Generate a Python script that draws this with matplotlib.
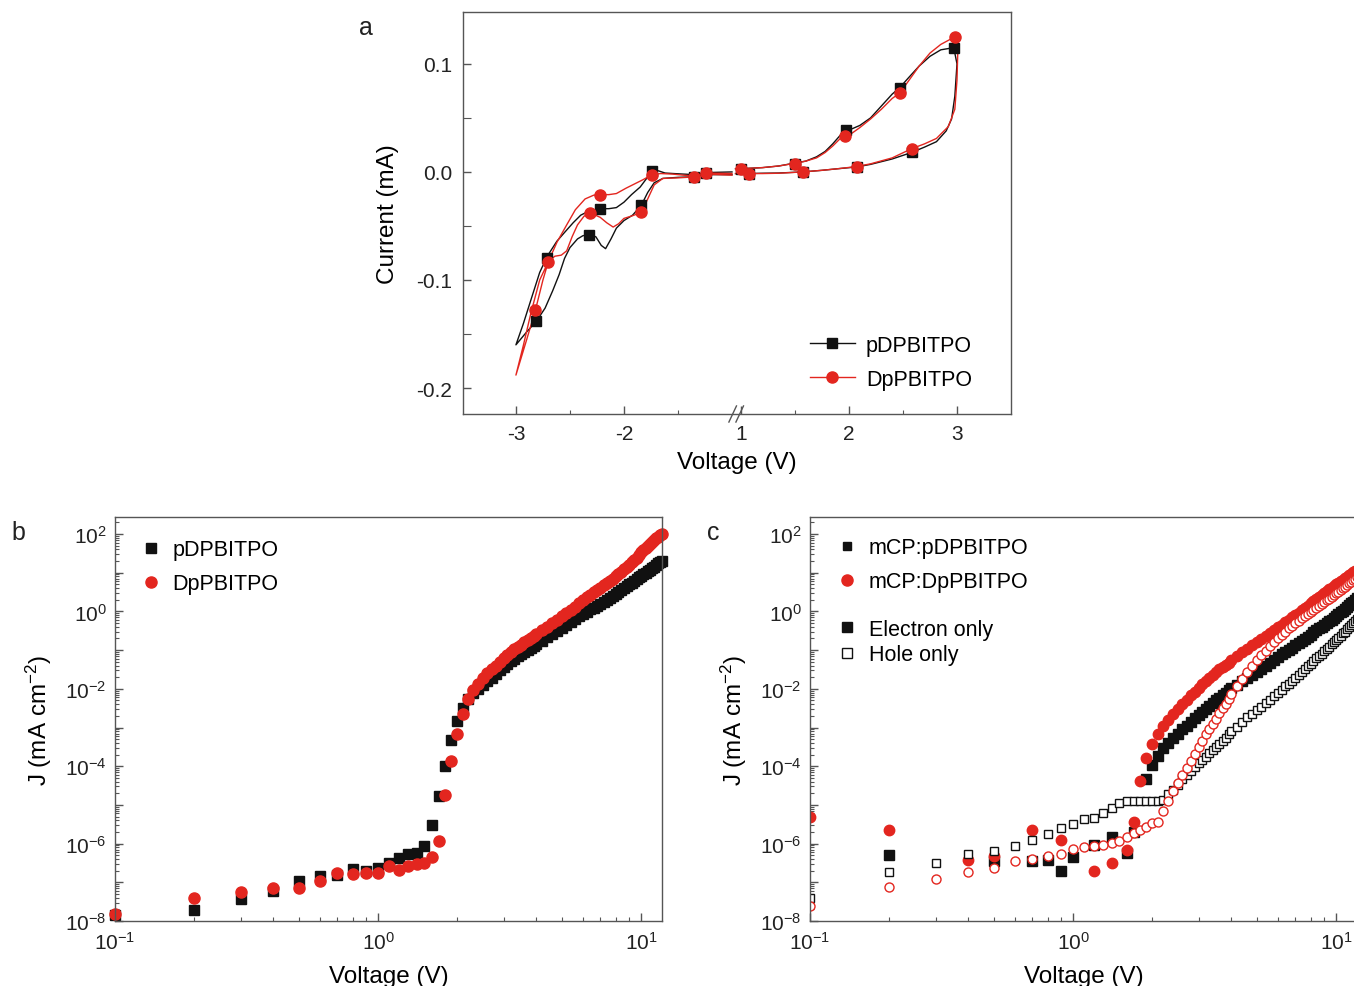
import numpy as np
import matplotlib.pyplot as plt
from matplotlib.lines import Line2D
from matplotlib.ticker import LogLocator, FuncFormatter, NullFormatter, FixedLocator

plt.rcParams['font.family'] = ['Liberation Sans', 'DejaVu Sans']
plt.rcParams['mathtext.default'] = 'regular'
plt.rcParams['axes.unicode_minus'] = False

BLACK = '#111111'
RED = '#e3261f'
FRAME = '#555555'

# ---------------- panel a: cyclic voltammetry (V, mA) ----------------
cv_black_left_v = [-1.00, -1.24, -1.35, -1.50, -1.64, -1.72, -1.78, -1.84, -1.92, -2.00,
                   -2.07, -2.12, -2.17, -2.21, -2.26, -2.32, -2.38, -2.43, -2.50, -2.55,
                   -2.60, -2.66, -2.73, -2.81, -2.90, -3.00,
                   -2.93, -2.86, -2.78, -2.71, -2.62, -2.55, -2.47, -2.40, -2.32, -2.22,
                   -2.14, -2.07, -2.00, -1.93, -1.85, -1.79, -1.74, -1.68, -1.62, -1.54,
                   -1.45, -1.35, -1.24, -1.00]
cv_black_left_i = [-0.0025, -0.0025, -0.0045, -0.0050, -0.0060, -0.0100, -0.0190, -0.0310, -0.0400, -0.0450,
                   -0.0520, -0.0620, -0.0710, -0.0680, -0.0600, -0.0580, -0.0590, -0.0620, -0.0700, -0.0800,
                   -0.0950, -0.1100, -0.1260, -0.1380, -0.1480, -0.1600,
                   -0.1400, -0.1180, -0.0930, -0.0780, -0.0640, -0.0560, -0.0470, -0.0400, -0.0360, -0.0340,
                   -0.0340, -0.0330, -0.0280, -0.0210, -0.0140, -0.0060, 0.0010, 0.0010, -0.0010, -0.0015,
                   -0.0020, -0.0025, -0.0006, 0.0000]
cv_black_right_v = [0.95, 1.00, 1.20, 1.35, 1.47, 1.60, 1.70, 1.78, 1.85, 1.92, 1.97, 2.03,
                    2.10, 2.20, 2.30, 2.40, 2.47, 2.55, 2.65, 2.75, 2.85, 2.97,
                    3.00, 2.98, 2.95, 2.90, 2.81, 2.70, 2.58, 2.40, 2.20, 2.07, 1.90,
                    1.75, 1.57, 1.35, 1.20, 1.07, 0.95]
cv_black_right_i = [0.0030, 0.0030, 0.0040, 0.0055, 0.0077, 0.0100, 0.0140, 0.0190, 0.0260, 0.0340, 0.0385, 0.0400,
                    0.0430, 0.0500, 0.0610, 0.0720, 0.0780, 0.0870, 0.0980, 0.1070, 0.1130, 0.1150,
                    0.1000, 0.0700, 0.0490, 0.0380, 0.0280, 0.0230, 0.0180, 0.0120, 0.0070, 0.0046, 0.0030,
                    0.0015, 0.0000, -0.0010, -0.0012, -0.0015, -0.0015]
cv_red_left_v = [-1.00, -1.24, -1.35, -1.50, -1.64, -1.72, -1.78, -1.84, -1.92, -2.00,
                 -2.05, -2.10, -2.16, -2.22, -2.31, -2.37, -2.43, -2.48, -2.53, -2.58,
                 -2.64, -2.70, -2.75, -2.82, -2.90, -3.00,
                 -2.93, -2.86, -2.78, -2.70, -2.62, -2.53, -2.45, -2.36, -2.28, -2.22,
                 -2.14, -2.07, -1.98, -1.90, -1.82, -1.74, -1.66, -1.55, -1.45, -1.35,
                 -1.24, -1.00]
cv_red_left_i = [-0.0030, -0.0020, -0.0046, -0.0055, -0.0060, -0.0120, -0.0250, -0.0375, -0.0405, -0.0430,
                 -0.0480, -0.0510, -0.0470, -0.0420, -0.0380, -0.0410, -0.0490, -0.0600, -0.0730, -0.0770,
                 -0.0780, -0.0830, -0.1000, -0.1280, -0.1550, -0.1880,
                 -0.1600, -0.1300, -0.1000, -0.0830, -0.0650, -0.0490, -0.0350, -0.0250, -0.0215, -0.0210,
                 -0.0210, -0.0200, -0.0150, -0.0110, -0.0070, -0.0025, -0.0015, -0.0020, -0.0030, -0.0037,
                 -0.0010, -0.0015]
cv_red_right_v = [0.95, 1.00, 1.20, 1.35, 1.47, 1.60, 1.70, 1.78, 1.85, 1.92, 1.96, 2.03,
                  2.10, 2.20, 2.30, 2.40, 2.47, 2.55, 2.65, 2.75, 2.85, 2.98,
                  3.01, 3.00, 2.98, 2.92, 2.81, 2.70, 2.58, 2.40, 2.20, 2.07, 1.90,
                  1.75, 1.57, 1.35, 1.20, 1.07, 0.95]
cv_red_right_i = [0.0030, 0.0030, 0.0040, 0.0055, 0.0075, 0.0100, 0.0130, 0.0180, 0.0240, 0.0310, 0.0330, 0.0360,
                  0.0410, 0.0490, 0.0580, 0.0680, 0.0730, 0.0840, 0.0980, 0.1100, 0.1180, 0.1250,
                  0.1200, 0.0850, 0.0580, 0.0420, 0.0310, 0.0260, 0.0215, 0.0130, 0.0075, 0.0050, 0.0030,
                  0.0015, 0.0000, -0.0012, -0.0015, -0.0015, -0.0015]
# symbols on the curves
cv_black_mark_v = [-2.81, -2.71, -2.32, -2.22, -1.84, -1.74, -1.35, -1.24,
                   1.00, 1.07, 1.50, 1.57, 1.97, 2.07, 2.47, 2.58, 2.97]
cv_black_mark_i = [-0.138, -0.080, -0.058, -0.034, -0.031, 0.001, -0.0046, -0.0006,
                   0.003, -0.0015, 0.0077, 0.0, 0.0385, 0.0046, 0.078, 0.018, 0.115]
cv_red_mark_v = [-2.82, -2.70, -2.31, -2.22, -1.84, -1.74, -1.35, -1.24,
                 1.00, 1.07, 1.50, 1.57, 1.96, 2.07, 2.47, 2.58, 2.98]
cv_red_mark_i = [-0.128, -0.083, -0.038, -0.021, -0.0375, -0.0025, -0.0046, -0.0006,
                 0.003, -0.0015, 0.0075, 0.0, 0.033, 0.0046, 0.073, 0.0215, 0.125]

# ---------------- panels b, c: J-V on log axes (log10 J, mA cm-2) ----------------
v_lo = [0.1, 0.2, 0.3, 0.4, 0.5, 0.6, 0.7, 0.8, 0.9, 1.0, 1.1, 1.2,
        1.3, 1.4, 1.5, 1.6, 1.7, 1.8, 1.9, 2.0, 2.1, 2.2, 2.3]
v_hi = [2.4, 2.5, 2.6, 2.7, 2.8, 2.9, 3.0, 3.1, 3.2, 3.3, 3.4, 3.5, 3.6, 3.7, 3.8, 3.9, 4.0,
        4.2, 4.4, 4.6, 4.8, 5.0, 5.2, 5.4, 5.6, 5.8, 6.0, 6.2, 6.4, 6.6, 6.8, 7.0, 7.2, 7.4,
        7.6, 7.8, 8.0, 8.2, 8.4, 8.6, 8.8, 9.0, 9.2, 9.4, 9.6, 9.8, 10.0, 10.2, 10.4, 10.6,
        10.8, 11.0, 11.2, 11.4, 11.6, 11.8, 12.0]

b_black_lo = [-7.85, -7.71, -7.43, -7.22, -6.96, -6.85, -6.81, -6.65, -6.70, -6.62, -6.51, -6.38,
              -6.27, -6.23, -6.05, -5.51, -4.78, -4.00, -3.31, -2.82, -2.49, -2.27, -2.12]
b_black_hi = [-2.00, -1.90, -1.80, -1.72, -1.62, -1.52, -1.43, -1.36, -1.29, -1.22, -1.16, -1.10,
              -1.05, -1.00, -0.95, -0.90, -0.85,
              -0.76, -0.67, -0.58, -0.50, -0.42, -0.35, -0.27, -0.20, -0.13, -0.07,
              -0.01, 0.05, 0.10, 0.15, 0.20, 0.25, 0.30, 0.35, 0.40, 0.45,
              0.50, 0.55, 0.60, 0.65, 0.70, 0.74, 0.79, 0.83, 0.88, 0.92,
              0.96, 1.00, 1.04, 1.08, 1.12, 1.16, 1.20, 1.24, 1.28, 1.31]
b_red_lo = [-7.83, -7.40, -7.24, -7.14, -7.14, -6.96, -6.75, -6.79, -6.75, -6.75, -6.57, -6.68,
            -6.59, -6.53, -6.49, -6.35, -5.93, -4.75, -3.87, -3.16, -2.64, -2.27, -2.04]
b_red_hi = [-1.87, -1.71, -1.60, -1.50, -1.40, -1.30, -1.20, -1.12, -1.05, -0.98, -0.92, -0.86,
            -0.80, -0.74, -0.69, -0.64, -0.59,
            -0.49, -0.40, -0.30, -0.21, -0.12, -0.04, 0.04, 0.12, 0.21, 0.29,
            0.36, 0.43, 0.49, 0.55, 0.61, 0.67, 0.73, 0.79, 0.85, 0.91,
            0.97, 1.03, 1.09, 1.15, 1.21, 1.27, 1.33, 1.39, 1.46, 1.53,
            1.58, 1.63, 1.69, 1.74, 1.79, 1.84, 1.89, 1.93, 1.97, 2.01]

# electron-only devices (filled symbols)
c_black_e_lo_v = [0.2, 0.5, 0.7, 0.8, 0.9, 1.0, 1.2, 1.4, 1.6, 1.7, 1.9, 2.0, 2.1, 2.2, 2.3]
c_black_e_lo = [-6.29, -6.46, -6.46, -6.42, -6.72, -6.35, -6.03, -5.82, -6.25, -5.70,
                -4.32, -3.98, -3.74, -3.53, -3.40]
c_black_e_hi = [-3.27, -3.16, -3.05, -2.95, -2.85, -2.76, -2.67, -2.59, -2.51, -2.44, -2.37, -2.30,
                -2.23, -2.17, -2.10, -2.04, -1.98,
                -1.89, -1.80, -1.72, -1.64, -1.56, -1.49, -1.41, -1.34, -1.26, -1.18,
                -1.11, -1.05, -0.99, -0.94, -0.88, -0.82, -0.77, -0.71, -0.65, -0.60,
                -0.54, -0.49, -0.44, -0.40, -0.35, -0.30, -0.26, -0.21, -0.16, -0.12,
                -0.07, -0.02, 0.02, 0.07, 0.12, 0.16, 0.21, 0.25, 0.30, 0.34]
c_red_e_lo_v = [0.1, 0.2, 0.4, 0.5, 0.7, 0.9, 1.2, 1.4, 1.6, 1.7, 1.8, 1.9, 2.0, 2.1, 2.2, 2.3]
c_red_e_lo = [-5.30, -5.64, -6.42, -6.31, -5.64, -5.90, -6.72, -6.51, -6.16, -5.44, -4.39,
              -3.80, -3.42, -3.16, -2.95, -2.80]
c_red_e_hi = [-2.66, -2.52, -2.40, -2.28, -2.17, -2.07, -1.97, -1.88, -1.80, -1.72, -1.64, -1.57,
              -1.50, -1.44, -1.38, -1.32, -1.26,
              -1.16, -1.06, -0.96, -0.87, -0.79, -0.71, -0.63, -0.55, -0.48, -0.41,
              -0.34, -0.27, -0.21, -0.15, -0.09, -0.03, 0.03, 0.09, 0.15, 0.21,
              0.27, 0.32, 0.37, 0.42, 0.47, 0.52, 0.57, 0.61, 0.66, 0.70,
              0.74, 0.78, 0.82, 0.86, 0.90, 0.94, 0.97, 1.01, 1.04, 1.08]
# hole-only devices (open symbols)
c_black_h_lo = [-7.40, -6.74, -6.51, -6.27, -6.19, -6.06, -5.90, -5.75, -5.60, -5.50, -5.37, -5.34,
                -5.21, -5.08, -4.95, -4.89, -4.89, -4.89, -4.91, -4.91, -4.89, -4.88, -4.72]
c_black_h_hi = [-4.61, -4.49, -4.33, -4.22, -4.12, -4.02, -3.92, -3.84, -3.76, -3.67, -3.58, -3.50,
                -3.42, -3.34, -3.26, -3.18, -3.10,
                -2.98, -2.86, -2.74, -2.64, -2.55, -2.46, -2.37, -2.28, -2.19, -2.10,
                -2.02, -1.94, -1.87, -1.79, -1.72, -1.64, -1.57, -1.49, -1.42, -1.35,
                -1.28, -1.21, -1.15, -1.09, -1.03, -0.97, -0.91, -0.85, -0.80, -0.74,
                -0.68, -0.63, -0.57, -0.52, -0.46, -0.41, -0.35, -0.30, -0.25, -0.20]
c_red_h_lo = [-7.60, -7.11, -6.91, -6.74, -6.62, -6.46, -6.40, -6.31, -6.27, -6.14, -6.09, -6.05,
              -6.03, -5.99, -5.93, -5.82, -5.73, -5.64, -5.57, -5.47, -5.43, -5.17, -4.91]
c_red_h_hi = [-4.65, -4.44, -4.24, -4.04, -3.86, -3.68, -3.50, -3.34, -3.18, -3.04, -2.90, -2.77,
              -2.63, -2.50, -2.38, -2.26, -2.14,
              -1.93, -1.74, -1.56, -1.40, -1.26, -1.13, -1.01, -0.90, -0.79, -0.69,
              -0.60, -0.52, -0.44, -0.37, -0.30, -0.24, -0.18, -0.12, -0.07, -0.02,
              0.04, 0.09, 0.14, 0.19, 0.24, 0.29, 0.33, 0.38, 0.43, 0.47,
              0.51, 0.56, 0.60, 0.64, 0.69, 0.73, 0.77, 0.81, 0.85, 0.89]

# the broken CV axis: negative branch shifted right so -1 V sits next to +1 V
CV_SHIFT = 1.917
TICK_FS = 15
LABEL_FS = 17.5
LEG_FS = 15.5


def cv_x(v):
    v = np.asarray(v, dtype=float)
    return np.where(v < 0, v + CV_SHIFT, v)


def logj(vals):
    return 10.0 ** np.asarray(vals)


def style_frame(ax):
    for s in ax.spines.values():
        s.set_color(FRAME)
        s.set_linewidth(1.0)
    ax.tick_params(which='both', direction='in', colors=FRAME, labelcolor='#222222',
                   labelsize=TICK_FS, top=False, right=False)
    ax.tick_params(which='major', length=6, width=1)
    ax.tick_params(which='minor', length=3, width=0.8)


def style_log(ax):
    style_frame(ax)
    ax.set_xscale('log')
    ax.set_yscale('log')
    ax.set_xlim(0.1, 12)
    ax.set_ylim(1e-8, 10 ** 2.44)
    ax.xaxis.set_major_locator(LogLocator(base=10, numticks=10))
    ax.xaxis.set_minor_locator(LogLocator(base=10, subs=np.arange(2, 10), numticks=10))
    ax.xaxis.set_minor_formatter(NullFormatter())
    ax.xaxis.set_major_formatter(FuncFormatter(lambda x, p: r'$10^{%d}$' % round(np.log10(x))))
    ax.yaxis.set_major_locator(LogLocator(base=10, subs=(1.0,), numticks=20))
    ax.yaxis.set_minor_locator(LogLocator(base=10, subs=np.arange(2, 10), numticks=20))
    ax.yaxis.set_minor_formatter(NullFormatter())

    def yfmt(y, p):
        e = int(round(np.log10(y)))
        return r'$10^{%d}$' % e if e % 2 == 0 else ''
    ax.yaxis.set_major_formatter(FuncFormatter(yfmt))
    ax.tick_params(axis='x', pad=7)
    ax.tick_params(axis='y', pad=6)
    ax.set_xlabel('Voltage (V)', fontsize=LABEL_FS, labelpad=9)
    ax.set_ylabel(r'J (mA cm$^{-2}$)', fontsize=LABEL_FS, labelpad=8)


W, H = 1354, 987
fig = plt.figure(figsize=(W / 100, H / 100), dpi=100)


def px_axes(left, top, right, bottom):
    return fig.add_axes([left / W, 1 - bottom / H, (right - left) / W, (bottom - top) / H])


# ---------------- panel a ----------------
ax = px_axes(463, 13, 1011, 415)
style_frame(ax)
ax.plot(cv_x(cv_black_left_v), cv_black_left_i, color=BLACK, lw=1.0)
ax.plot(cv_x(cv_black_right_v), cv_black_right_i, color=BLACK, lw=1.0)
ax.plot(cv_x(cv_red_left_v), cv_red_left_i, color=RED, lw=1.0)
ax.plot(cv_x(cv_red_right_v), cv_red_right_i, color=RED, lw=1.0)
ax.plot(cv_x(cv_black_mark_v), cv_black_mark_i, 's', color=BLACK, ms=7, ls='none')
ax.plot(cv_x(cv_red_mark_v), cv_red_mark_i, 'o', color=RED, ms=8, ls='none')
ax.set_xlim(cv_x(-3.49), 3.5)
ax.set_ylim(-0.224, 0.148)
tick_v = [-3, -2, 1, 2, 3]
ax.xaxis.set_major_locator(FixedLocator(cv_x(tick_v)))
ax.set_xticklabels([str(t) for t in tick_v])
ax.xaxis.set_minor_locator(FixedLocator(cv_x([-2.5, -1.5, 1.5, 2.5])))
ax.set_yticks([-0.2, -0.1, 0.0, 0.1])
ax.set_yticklabels(['-0.2', '-0.1', '0.0', '0.1'])
ax.yaxis.set_minor_locator(FixedLocator([-0.15, -0.05, 0.05]))
ax.tick_params(axis='y', which='minor', length=6)
ax.tick_params(axis='x', pad=7)
ax.tick_params(axis='y', pad=8)
ax.set_xlabel('Voltage (V)', fontsize=LABEL_FS, labelpad=6)
ax.set_ylabel('Current (mA)', fontsize=LABEL_FS, labelpad=12)
# axis break mark
xb = (cv_x(-1.0) + 1.0) / 2
for off in (-0.035, 0.03):
    ax.plot([xb + off - 0.035, xb + off + 0.035], [-0.02, 0.02], color=FRAME, lw=1.0,
            transform=ax.get_xaxis_transform(), clip_on=False)
handles = [Line2D([], [], color=BLACK, lw=1.0, marker='s', ms=7, label='pDPBITPO'),
           Line2D([], [], color=RED, lw=1.0, marker='o', ms=8, label='DpPBITPO')]
ax.legend(handles=handles, loc='upper left', bbox_to_anchor=(0.633, 0.197), frameon=False,
          fontsize=LEG_FS, handlelength=2.1, handletextpad=0.5, labelspacing=0.6, borderpad=0,
          borderaxespad=0)

# ---------------- panel b ----------------
axb = px_axes(115, 518, 662, 922)
style_log(axb)
axb.plot(v_lo + v_hi, logj(b_black_lo + b_black_hi), 's', color=BLACK, ms=7, ls='none',
         label='pDPBITPO', clip_on=False)
axb.plot(v_lo + v_hi, logj(b_red_lo + b_red_hi), 'o', color=RED, ms=8, ls='none',
         label='DpPBITPO', clip_on=False)
axb.set_xlim(0.1, 12)
axb.legend(loc='upper left', bbox_to_anchor=(0.046, 0.945), frameon=False, fontsize=LEG_FS,
           handlelength=1.0, handletextpad=0.5, labelspacing=0.6, borderpad=0, borderaxespad=0)

# ---------------- panel c ----------------
axc = px_axes(810, 518, 1357, 922)
style_log(axc)
axc.plot(c_black_e_lo_v + v_hi, logj(c_black_e_lo + c_black_e_hi), 's', color=BLACK, ms=6.5,
         ls='none')
axc.plot(c_red_e_lo_v + v_hi, logj(c_red_e_lo + c_red_e_hi), 'o', color=RED, ms=7.5, ls='none')
axc.plot(v_lo + v_hi, logj(c_black_h_lo + c_black_h_hi), 's', mfc='white', mec=BLACK, mew=1.0,
         ms=6, ls='none')
axc.plot(v_lo + v_hi, logj(c_red_h_lo + c_red_h_hi), 'o', mfc='white', mec=RED, mew=1.0,
         ms=6.5, ls='none')
axc.set_xlim(0.1, 12)
leg1 = axc.legend(handles=[Line2D([], [], ls='none', marker='s', color=BLACK, ms=6, label='mCP:pDPBITPO'),
                           Line2D([], [], ls='none', marker='o', color=RED, ms=8, label='mCP:DpPBITPO')],
                  loc='upper left', bbox_to_anchor=(0.048, 0.95), frameon=False, fontsize=LEG_FS,
                  handlelength=1.0, handletextpad=0.5, labelspacing=0.6, borderpad=0, borderaxespad=0)
axc.add_artist(leg1)
axc.legend(handles=[Line2D([], [], ls='none', marker='s', color=BLACK, ms=7.5, label='Electron only'),
                    Line2D([], [], ls='none', marker='s', mfc='white', mec=BLACK, mew=1.0, ms=7,
                           label='Hole only')],
           loc='upper left', bbox_to_anchor=(0.048, 0.748), frameon=False, fontsize=LEG_FS,
           handlelength=1.0, handletextpad=0.5, labelspacing=0.2, borderpad=0, borderaxespad=0)

# panel letters
for x, y, s in [(366, 28, 'a'), (18, 533, 'b'), (713, 533, 'c')]:
    fig.text(x / W, 1 - y / H, s, ha='center', va='center', fontsize=18, color='#222222')

fig.savefig('out.png', dpi=100)
